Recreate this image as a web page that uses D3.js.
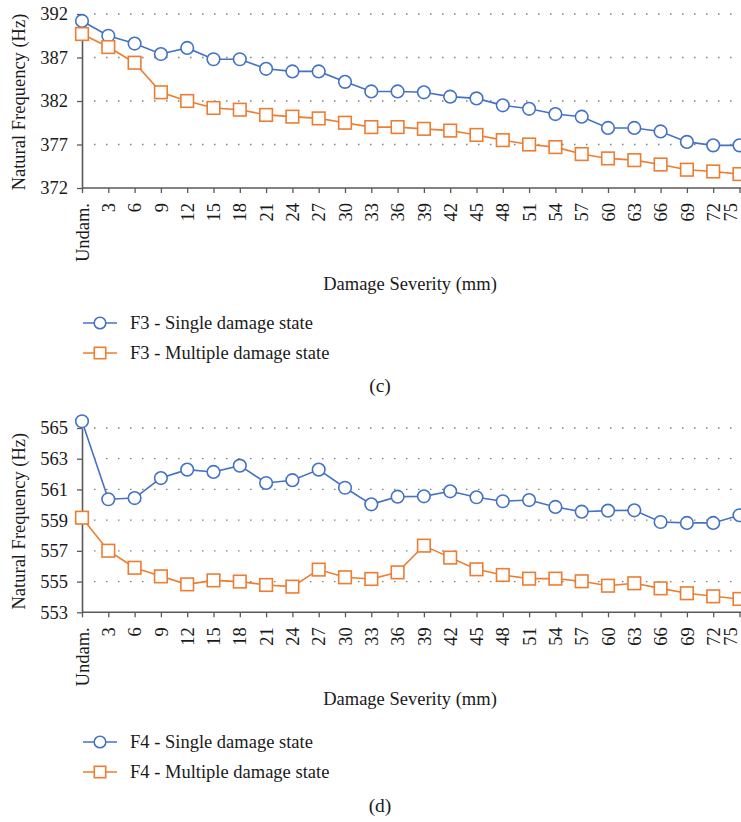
<!DOCTYPE html>
<html>
<head>
<meta charset="utf-8">
<script src="https://cdn.jsdelivr.net/npm/d3@7"></script>
<style>
  body { margin: 0; background: #fff; }
  svg { display: block; font-family: "Liberation Serif", "DejaVu Serif", serif; }
</style>
</head>
<body>
<svg class="canvas" width="741" height="822"></svg>
<script>
// categories shared by both panels
const categories = ["Undam.", "3", "6", "9", "12", "15", "18", "21", "24", "27", "30", "33", "36",
  "39", "42", "45", "48", "51", "54", "57", "60", "63", "66", "69", "72", "75"];

// panel (c) - F3
const f3Single = [391.2, 389.5, 388.6, 387.4, 388.1, 386.8, 386.8, 385.7, 385.4, 385.4, 384.2, 383.1, 383.1,
  383.0, 382.5, 382.3, 381.5, 381.1, 380.5, 380.2, 378.9, 378.9, 378.5, 377.3, 376.9, 376.9];
const f3Multiple = [389.7, 388.2, 386.4, 383.0, 382.0, 381.2, 381.0, 380.4, 380.2, 380.0, 379.5, 379.0, 379.0,
  378.8, 378.6, 378.1, 377.5, 377.0, 376.7, 375.9, 375.4, 375.2, 374.7, 374.1, 373.9, 373.6];
const f3Ticks = [372, 377, 382, 387, 392];

// panel (d) - F4
const f4Single = [565.44, 560.36, 560.44, 561.74, 562.29, 562.14, 562.55, 561.42, 561.6, 562.29, 561.11, 560.03, 560.53,
  560.55, 560.88, 560.49, 560.23, 560.31, 559.86, 559.55, 559.62, 559.64, 558.88, 558.82, 558.82, 559.32];
const f4Multiple = [559.16, 557.01, 555.9, 555.34, 554.82, 555.08, 555.0, 554.78, 554.67, 555.78, 555.28, 555.17, 555.6,
  557.34, 556.56, 555.8, 555.43, 555.19, 555.19, 555.02, 554.73, 554.89, 554.56, 554.24, 554.04, 553.87];
const f4Ticks = [553, 555, 557, 559, 561, 563, 565];

const blue = "#4472c4";
const orange = "#ed7d31";
const axisColor = "#595959";
const textColor = "#1a1a1a";
const fontSize = "18.5px";

const svg = d3.select(".canvas");
const left = 82;
const right = 739.5;

const xScale = d3.scalePoint().domain(categories).range([left, right]);

function drawPanel(opts) {
  const g = svg.append("g");
  const yScale = d3.scaleLinear()
    .domain([opts.ticks[0], opts.ticks[opts.ticks.length - 1]])
    .range([opts.bottom, opts.top]);

  // dotted gridlines
  g.selectAll(".grid")
    .data(opts.ticks.slice(1))
    .enter()
    .append("line")
    .attr("x1", 94)
    .attr("x2", 741)
    .attr("y1", (d) => yScale(d))
    .attr("y2", (d) => yScale(d))
    .attr("stroke", "#7f7f7f")
    .attr("stroke-width", 1.3)
    .attr("stroke-dasharray", "1.5,10.5");

  // y axis
  const yAxis = d3.axisLeft(yScale).tickValues(opts.ticks).tickSize(5).tickSizeOuter(0).tickPadding(9);
  const ya = g.append("g").attr("transform", `translate(${left},0)`).call(yAxis);
  ya.attr("font-family", null).attr("font-size", null);
  ya.select(".domain").attr("stroke", axisColor).attr("stroke-width", 1.6);
  ya.selectAll(".tick line").attr("stroke", axisColor).attr("stroke-width", 1.3);
  ya.selectAll(".tick text")
    .attr("fill", textColor)
    .style("font-size", fontSize);

  // x axis
  const xAxis = d3.axisBottom(xScale).tickSize(5).tickSizeOuter(0).tickPadding(0);
  const xa = g.append("g").attr("transform", `translate(0,${opts.bottom})`).call(xAxis);
  xa.attr("font-family", null).attr("font-size", null);
  xa.select(".domain").attr("stroke", axisColor).attr("stroke-width", 1.6)
    .attr("d", `M${left},0H741`);
  xa.selectAll(".tick line").attr("stroke", axisColor).attr("stroke-width", 1.3);
  // last label nudged left so it stays inside the page
  xa.selectAll(".tick text")
    .attr("fill", textColor)
    .style("font-size", fontSize)
    .attr("text-anchor", "end")
    .attr("transform", "rotate(-90)")
    .attr("x", -15)
    .attr("y", (d, i) => (i === categories.length - 1 ? -9 : 0))
    .attr("dy", "0.33em");

  // y axis title
  g.append("text")
    .attr("transform", `translate(25,${(opts.top + opts.bottom) / 2 + 1}) rotate(-90)`)
    .attr("text-anchor", "middle")
    .attr("fill", textColor)
    .style("font-size", fontSize)
    .text("Natural Frequency (Hz)");

  // x axis title
  g.append("text")
    .attr("x", 410)
    .attr("y", opts.xTitleY)
    .attr("text-anchor", "middle")
    .attr("fill", textColor)
    .style("font-size", fontSize)
    .text("Damage Severity (mm)");

  const line = d3.line()
    .x((d, i) => xScale(categories[i]))
    .y((d) => yScale(d));

  // single damage series (circles)
  g.append("path")
    .datum(opts.single)
    .attr("d", line)
    .attr("fill", "none")
    .attr("stroke", blue)
    .attr("stroke-width", 1.6);
  g.selectAll(".dot")
    .data(opts.single)
    .enter()
    .append("circle")
    .attr("cx", (d, i) => xScale(categories[i]))
    .attr("cy", (d) => yScale(d))
    .attr("r", 6.3)
    .attr("fill", "#fff")
    .attr("stroke", blue)
    .attr("stroke-width", 1.6);

  // multiple damage series (squares)
  g.append("path")
    .datum(opts.multiple)
    .attr("d", line)
    .attr("fill", "none")
    .attr("stroke", orange)
    .attr("stroke-width", 1.6);
  g.selectAll(".sq")
    .data(opts.multiple)
    .enter()
    .append("rect")
    .attr("x", (d, i) => xScale(categories[i]) - 6.3)
    .attr("y", (d) => yScale(d) - 6.3)
    .attr("width", 12.6)
    .attr("height", 12.6)
    .attr("fill", "#fff")
    .attr("stroke", orange)
    .attr("stroke-width", 1.6);

  // legend
  const legend = [
    { label: opts.name + " - Single damage state", color: blue, shape: "circle", y: opts.legendY },
    { label: opts.name + " - Multiple damage state", color: orange, shape: "square", y: opts.legendY + 30 }
  ];
  legend.forEach((d) => {
    g.append("line")
      .attr("x1", 83).attr("x2", 117)
      .attr("y1", d.y).attr("y2", d.y)
      .attr("stroke", d.color).attr("stroke-width", 1.6);
    if (d.shape === "circle") {
      g.append("circle").attr("cx", 100).attr("cy", d.y).attr("r", 5.8)
        .attr("fill", "#fff").attr("stroke", d.color).attr("stroke-width", 1.6);
    } else {
      g.append("rect").attr("x", 94.3).attr("y", d.y - 5.7).attr("width", 11.4).attr("height", 11.4)
        .attr("fill", "#fff").attr("stroke", d.color).attr("stroke-width", 1.6);
    }
    g.append("text")
      .attr("x", 130)
      .attr("y", d.y + 6)
      .attr("fill", textColor)
      .style("font-size", fontSize)
      .text(d.label);
  });

  // panel tag
  g.append("text")
    .attr("x", 380)
    .attr("y", opts.tagY)
    .attr("text-anchor", "middle")
    .attr("fill", textColor)
    .style("font-size", "19.5px")
    .text(opts.tag);
}

drawPanel({
  name: "F3", tag: "(c)", ticks: f3Ticks, single: f3Single, multiple: f3Multiple,
  top: 14, bottom: 188, xTitleY: 290, legendY: 323, tagY: 392
});
drawPanel({
  name: "F4", tag: "(d)", ticks: f4Ticks, single: f4Single, multiple: f4Multiple,
  top: 428, bottom: 612.3, xTitleY: 705, legendY: 742, tagY: 812
});
</script>
</body>
</html>
